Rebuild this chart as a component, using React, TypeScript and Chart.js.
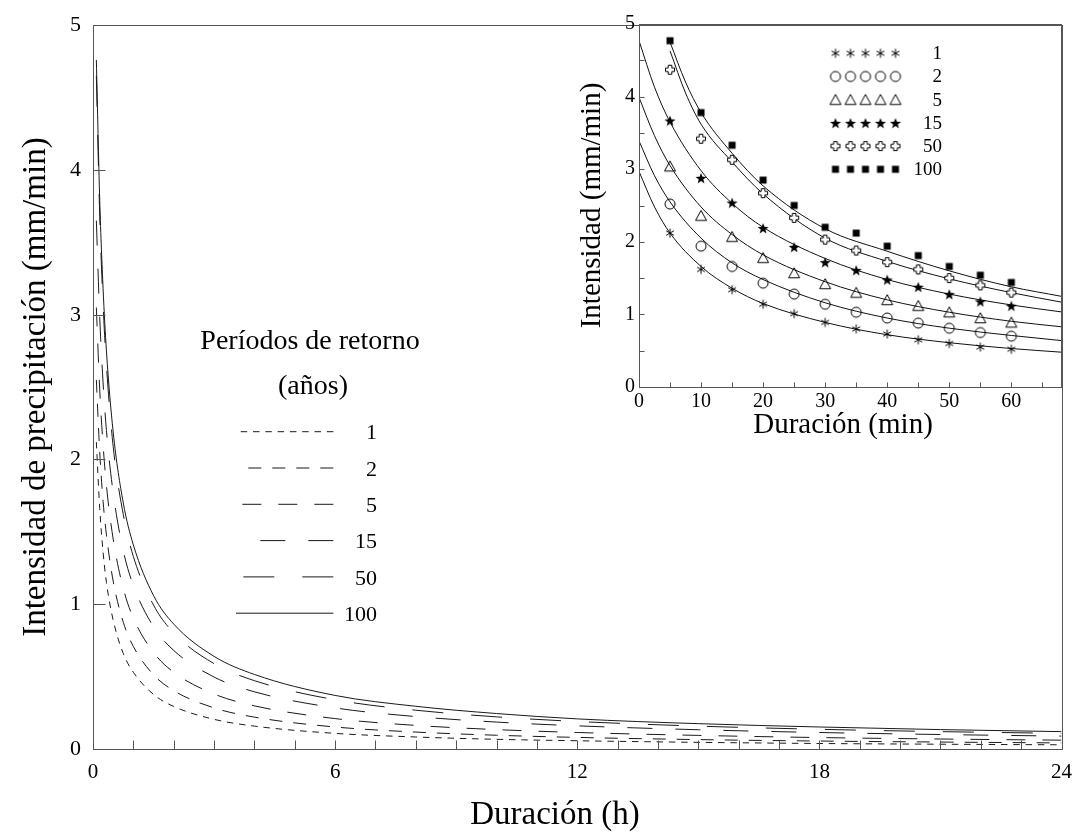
import React, { useEffect, useRef } from 'react';
import { Chart, registerables } from 'chart.js';

Chart.register(...registerables);

const FONT = '"Liberation Serif", "Times New Roman", Times, serif';

// ---------- Main chart: intensity (mm/min) vs duration (h) ----------
const returnPeriods = ['1', '2', '5', '15', '50', '100'];
const mainHours = [0.083, 0.167, 0.25, 0.333, 0.5, 0.75, 1, 1.5, 2, 3, 4, 6, 8, 10, 12, 15, 18, 21, 24];
const mainT1 = [2.12, 1.66, 1.36, 1.15, 0.89, 0.66, 0.53, 0.377, 0.294, 0.205, 0.158, 0.108, 0.083, 0.067, 0.057, 0.046, 0.038, 0.033, 0.029];
const mainT2 = [2.55, 2.05, 1.71, 1.48, 1.16, 0.876, 0.708, 0.513, 0.403, 0.284, 0.22, 0.152, 0.117, 0.095, 0.08, 0.065, 0.055, 0.048, 0.042];
const mainT5 = [3.05, 2.48, 2.1, 1.82, 1.45, 1.11, 0.905, 0.667, 0.53, 0.38, 0.298, 0.21, 0.163, 0.134, 0.114, 0.094, 0.079, 0.069, 0.061];
const mainT15 = [3.65, 2.98, 2.53, 2.2, 1.77, 1.37, 1.13, 0.845, 0.681, 0.497, 0.395, 0.284, 0.224, 0.186, 0.16, 0.133, 0.114, 0.1, 0.089];
const mainT50 = [4.65, 3.68, 3.07, 2.65, 2.09, 1.62, 1.33, 0.994, 0.802, 0.59, 0.472, 0.34, 0.268, 0.222, 0.19, 0.158, 0.136, 0.12, 0.108];
const mainT100 = [4.76, 3.79, 3.18, 2.75, 2.19, 1.7, 1.41, 1.06, 0.863, 0.64, 0.515, 0.37, 0.295, 0.245, 0.208, 0.175, 0.152, 0.134, 0.12];
const mainSeries = [mainT1, mainT2, mainT5, mainT15, mainT50, mainT100];
const mainDashes = [[6.5, 5.8], [13, 11], [19, 17], [25, 23], [31, 28], []];
const mainXTicks = [0, 6, 12, 18, 24];
const mainYTicks = [0, 1, 2, 3, 4, 5];
const mainXMinorTicks = [1, 2, 3, 4, 5, 6, 7, 8, 9, 10, 11, 12, 13, 14, 15, 16, 17, 18, 19, 20, 21, 22, 23];
const mainYMinorTicks = [1, 2, 3, 4];
const legendTitle = ['Períodos de retorno', '(años)'];

// ---------- Inset: intensity vs duration (min) ----------
const obsMin = [5, 10, 15, 20, 25, 30, 35, 40, 45, 50, 55, 60];
const obs1 = [2.12, 1.62, 1.34, 1.14, 1.01, 0.89, 0.8, 0.73, 0.65, 0.6, 0.55, 0.52];
const obs2 = [2.52, 1.94, 1.66, 1.43, 1.28, 1.14, 1.03, 0.95, 0.88, 0.81, 0.75, 0.7];
const obs5 = [3.04, 2.36, 2.07, 1.78, 1.57, 1.42, 1.3, 1.2, 1.12, 1.03, 0.95, 0.89];
const obs15 = [3.67, 2.88, 2.54, 2.19, 1.93, 1.72, 1.61, 1.48, 1.38, 1.28, 1.18, 1.12];
const obs50 = [4.37, 3.42, 3.13, 2.67, 2.33, 2.03, 1.88, 1.72, 1.62, 1.5, 1.4, 1.3];
const obs100 = [4.77, 3.78, 3.33, 2.85, 2.5, 2.2, 2.12, 1.94, 1.81, 1.66, 1.54, 1.44];
const obsSeries = [obs1, obs2, obs5, obs15, obs50, obs100];

const curveMinLow = [0, 2.5, 5, 10, 15, 20, 30, 40, 50, 60, 68];
const curveMinHigh = [5, 7.5, 10, 15, 20, 30, 40, 50, 60, 68];
const curve1 = [2.97, 2.48, 2.12, 1.66, 1.36, 1.15, 0.89, 0.72, 0.61, 0.53, 0.48];
const curve2 = [3.39, 2.91, 2.55, 2.05, 1.71, 1.48, 1.16, 0.95, 0.81, 0.71, 0.64];
const curve5 = [3.99, 3.46, 3.05, 2.48, 2.1, 1.82, 1.45, 1.2, 1.03, 0.905, 0.83];
const curve15 = [4.77, 4.13, 3.65, 2.98, 2.53, 2.2, 1.77, 1.48, 1.28, 1.13, 1.035];
const curve50 = [4.63, 4.05, 3.62, 3.1, 2.66, 2.05, 1.73, 1.49, 1.3, 1.17];
const curve100 = [4.75, 4.2, 3.78, 3.22, 2.77, 2.18, 1.87, 1.6, 1.38, 1.25];
const curveSeries = [curve1, curve2, curve5, curve15, curve50, curve100];
const curveXs = [curveMinLow, curveMinLow, curveMinLow, curveMinLow, curveMinHigh, curveMinHigh];
const insetXTicks = [0, 10, 20, 30, 40, 50, 60];
const insetYTicks = [0, 1, 2, 3, 4, 5];
const insetXMinorTicks = [5, 10, 15, 20, 25, 30, 35, 40, 45, 50, 55, 60, 65];
const insetYMinorTicks = [0.5, 1, 1.5, 2, 2.5, 3, 3.5, 4, 4.5];
const markerKinds = ['asterisk', 'circle', 'triangle', 'star', 'plus', 'square'];

function makeMarker(kind: string): HTMLCanvasElement {
  const c = document.createElement('canvas');
  c.width = 16;
  c.height = 16;
  const g = c.getContext('2d') as CanvasRenderingContext2D;
  const cx = 8;
  const cy = 8;
  g.strokeStyle = '#000';
  g.fillStyle = '#000';
  g.lineWidth = 1;
  g.beginPath();
  if (kind === 'asterisk') {
    const r = 4.5;
    [90, 30, 150].forEach((a) => {
      const rad = (a * Math.PI) / 180;
      g.moveTo(cx + r * Math.cos(rad), cy - r * Math.sin(rad));
      g.lineTo(cx - r * Math.cos(rad), cy + r * Math.sin(rad));
    });
    g.stroke();
  } else if (kind === 'circle') {
    g.arc(cx, cy, 5, 0, Math.PI * 2);
    g.stroke();
  } else if (kind === 'triangle') {
    const s = 11;
    const h = (s * Math.sqrt(3)) / 2;
    g.moveTo(cx, cy - h / 2 - 0.5);
    g.lineTo(cx + s / 2, cy + h / 2);
    g.lineTo(cx - s / 2, cy + h / 2);
    g.closePath();
    g.stroke();
  } else if (kind === 'star') {
    const R = 5.8;
    const r = 2.4;
    for (let k = 0; k < 10; k++) {
      const rad = -Math.PI / 2 + (k * Math.PI) / 5;
      const rr = k % 2 ? r : R;
      const x = cx + rr * Math.cos(rad);
      const y = cy + 0.7 + rr * Math.sin(rad);
      if (k === 0) g.moveTo(x, y);
      else g.lineTo(x, y);
    }
    g.closePath();
    g.fill();
  } else if (kind === 'plus') {
    const a = 1.8;
    const b = 4.5;
    const pts = [
      [-a, -b], [a, -b], [a, -a], [b, -a], [b, a], [a, a],
      [a, b], [-a, b], [-a, a], [-b, a], [-b, -a], [-a, -a],
    ];
    pts.forEach(([px, py], k) => {
      if (k === 0) g.moveTo(cx + px, cy + py);
      else g.lineTo(cx + px, cy + py);
    });
    g.closePath();
    g.fillStyle = '#fff';
    g.fill();
    g.stroke();
  } else {
    g.fillRect(cx - 3.5, cy - 3.5, 7, 7);
  }
  return c;
}

const frameTicksPlugin = {
  id: 'frameTicks',
  afterDatasetsDraw(chart: any, _args: any, opts: any) {
    const { ctx, chartArea: a, scales } = chart;
    ctx.save();
    ctx.strokeStyle = opts.color || '#555';
    ctx.lineWidth = 1;
    const L = Math.round(a.left) + 0.5;
    const T = Math.round(a.top) + 0.5;
    const R = Math.round(a.right) + 0.5;
    const B = Math.round(a.bottom) + 0.5;
    ctx.strokeRect(L, T, R - L, B - T);
    ctx.beginPath();
    (opts.xTicks || []).forEach((v: number) => {
      const px = Math.round(scales.x.getPixelForValue(v)) + 0.5;
      ctx.moveTo(px, B);
      ctx.lineTo(px, B - opts.xLen);
    });
    (opts.yTicks || []).forEach((v: number) => {
      const py = Math.round(scales.y.getPixelForValue(v)) + 0.5;
      ctx.moveTo(L, py);
      ctx.lineTo(L + opts.yLen, py);
    });
    ctx.stroke();
    ctx.restore();
  },
};

const xTitlePlugin = {
  id: 'xTitle',
  afterDraw(chart: any, _args: any, opts: any) {
    const ctx = chart.ctx;
    ctx.save();
    ctx.fillStyle = '#000';
    ctx.font = `${opts.size}px ${FONT}`;
    ctx.textAlign = 'center';
    ctx.textBaseline = 'middle';
    ctx.fillText(opts.text, opts.x, opts.y);
    ctx.restore();
  },
};

export default function App() {
  const mainRef = useRef<HTMLCanvasElement>(null);
  const insetRef = useRef<HTMLCanvasElement>(null);

  useEffect(() => {
    Chart.defaults.font.family = FONT;
    Chart.defaults.color = '#000';
    const markers = markerKinds.map(makeMarker);

    const mainLegendPlugin = {
      id: 'periodLegend',
      afterDraw(chart: any) {
        const ctx = chart.ctx;
        ctx.save();
        ctx.fillStyle = '#000';
        ctx.textBaseline = 'middle';
        ctx.textAlign = 'center';
        ctx.font = `28px ${FONT}`;
        ctx.fillText(legendTitle[0], 310, 342);
        ctx.fillText(legendTitle[1], 313, 387);
        const starts = [240.7, 248.3, 242.3, 260.3, 243.3, 236];
        chart.data.datasets.forEach((ds: any, i: number) => {
          const y = 431.7 + i * 36.3;
          ctx.strokeStyle = ds.borderColor;
          ctx.lineWidth = 1;
          ctx.setLineDash(ds.borderDash || []);
          ctx.beginPath();
          ctx.moveTo(333.3, y);
          ctx.lineTo(starts[i], y);
          ctx.stroke();
          ctx.setLineDash([]);
          ctx.font = `22px ${FONT}`;
          ctx.textAlign = 'right';
          ctx.fillText(ds.label, 377, y + 2);
        });
        ctx.restore();
      },
    };

    const insetLegendPlugin = {
      id: 'markerLegend',
      afterDraw(chart: any) {
        const ctx = chart.ctx;
        ctx.save();
        ctx.fillStyle = '#000';
        ctx.font = `19px ${FONT}`;
        ctx.textAlign = 'right';
        ctx.textBaseline = 'middle';
        returnPeriods.forEach((p, i) => {
          const y = 53.3 + i * 23.2;
          for (let k = 0; k < 5; k++) {
            ctx.drawImage(markers[i], 275.5 + k * 15 - 8, y - 8);
          }
          ctx.fillText(p, 382, y + 1);
        });
        ctx.restore();
      },
    };

    const main = new Chart(mainRef.current as HTMLCanvasElement, {
      type: 'line',
      data: {
        datasets: returnPeriods.map((p, i) => ({
          label: p,
          data: mainHours.map((h, j) => ({ x: h, y: mainSeries[i][j] })),
          borderColor: '#1a1a1a',
          borderWidth: 1,
          borderDash: mainDashes[i],
          pointRadius: 0,
          cubicInterpolationMode: 'monotone',
          fill: false,
        })),
      },
      options: {
        animation: false,
        responsive: false,
        devicePixelRatio: 1,
        events: [],
        layout: { padding: { left: 0, top: 24, right: 0, bottom: 0 } },
        plugins: {
          legend: { display: false },
          tooltip: { enabled: false },
          frameTicks: { xTicks: mainXMinorTicks, yTicks: mainYMinorTicks, xLen: 9, yLen: 12, color: '#555' },
          xTitle: { text: 'Duración (h)', x: 555, y: 815, size: 33 },
        },
        scales: {
          x: {
            type: 'linear',
            min: 0,
            max: 24,
            afterBuildTicks: (s: any) => {
              s.ticks = mainXTicks.map((v) => ({ value: v }));
            },
            afterFit: (s: any) => {
              s.height = 85;
            },
            grid: { display: false, drawTicks: false },
            border: { display: false },
            ticks: {
              font: { size: 21, family: FONT, lineHeight: 2.19 },
              color: '#000',
              padding: 0,
              maxRotation: 0,
              autoSkip: false,
            },
          },
          y: {
            type: 'linear',
            min: 0,
            max: 5,
            afterBuildTicks: (s: any) => {
              s.ticks = mainYTicks.map((v) => ({ value: v }));
            },
            afterFit: (s: any) => {
              s.width = 93;
            },
            grid: { display: false, drawTicks: false },
            border: { display: false },
            ticks: { font: { size: 22, family: FONT }, color: '#000', padding: 12, autoSkip: false },
            title: {
              display: true,
              text: 'Intensidad de precipitación (mm/min)',
              font: { size: 33, family: FONT },
              color: '#000',
              padding: { top: 17, bottom: 0 },
            },
          },
        },
      } as any,
      plugins: [frameTicksPlugin, mainLegendPlugin, xTitlePlugin],
    });

    const inset = new Chart(insetRef.current as HTMLCanvasElement, {
      type: 'line',
      data: {
        datasets: [
          ...obsSeries.map((vals, i) => ({
            label: returnPeriods[i] + ' (datos)',
            data: obsMin.map((m, j) => ({ x: m, y: vals[j] })),
            showLine: false,
            pointStyle: markers[i],
            pointRadius: 5,
            pointHoverRadius: 5,
            borderColor: '#000',
            backgroundColor: '#000',
          })),
          ...curveSeries.map((vals, i) => ({
            label: returnPeriods[i],
            data: curveXs[i].map((m, j) => ({ x: m, y: vals[j] })),
            borderColor: '#111',
            borderWidth: 1,
            pointRadius: 0,
            cubicInterpolationMode: 'monotone',
            fill: false,
          })),
        ],
      },
      options: {
        animation: false,
        responsive: false,
        devicePixelRatio: 1,
        events: [],
        layout: { padding: { left: 0, top: 24, right: 11, bottom: 0 } },
        plugins: {
          legend: { display: false },
          tooltip: { enabled: false },
          frameTicks: { xTicks: insetXMinorTicks, yTicks: insetYMinorTicks, xLen: 5, yLen: 5, color: '#555' },
          xTitle: { text: 'Duración (min)', x: 283, y: 425, size: 29 },
        },
        scales: {
          x: {
            type: 'linear',
            min: 0,
            max: 68,
            afterBuildTicks: (s: any) => {
              s.ticks = insetXTicks.map((v) => ({ value: v }));
            },
            afterFit: (s: any) => {
              s.height = 73;
            },
            grid: { display: false, drawTicks: false },
            border: { display: false },
            ticks: { font: { size: 20, family: FONT }, color: '#000', padding: 3, maxRotation: 0, autoSkip: false },
          },
          y: {
            type: 'linear',
            min: 0,
            max: 5,
            afterBuildTicks: (s: any) => {
              s.ticks = insetYTicks.map((v) => ({ value: v }));
            },
            afterFit: (s: any) => {
              s.width = 79;
            },
            grid: { display: false, drawTicks: false },
            border: { display: false },
            ticks: { font: { size: 20, family: FONT }, color: '#000', padding: 4, autoSkip: false },
            title: {
              display: true,
              text: 'Intensidad (mm/min)',
              font: { size: 29, family: FONT },
              color: '#000',
              padding: { top: 14.6, bottom: 0 },
            },
          },
        },
      } as any,
      plugins: [frameTicksPlugin, insetLegendPlugin, xTitlePlugin],
    });

    return () => {
      main.destroy();
      inset.destroy();
    };
  }, []);

  return (
    <div style={{ position: 'absolute', left: 0, top: 0, width: 1072, height: 834, background: '#fff' }}>
      <canvas ref={mainRef} width={1072} height={834} style={{ position: 'absolute', left: 0, top: 0 }} />
      <canvas ref={insetRef} width={512} height={460} style={{ position: 'absolute', left: 560, top: 0 }} />
    </div>
  );
}
